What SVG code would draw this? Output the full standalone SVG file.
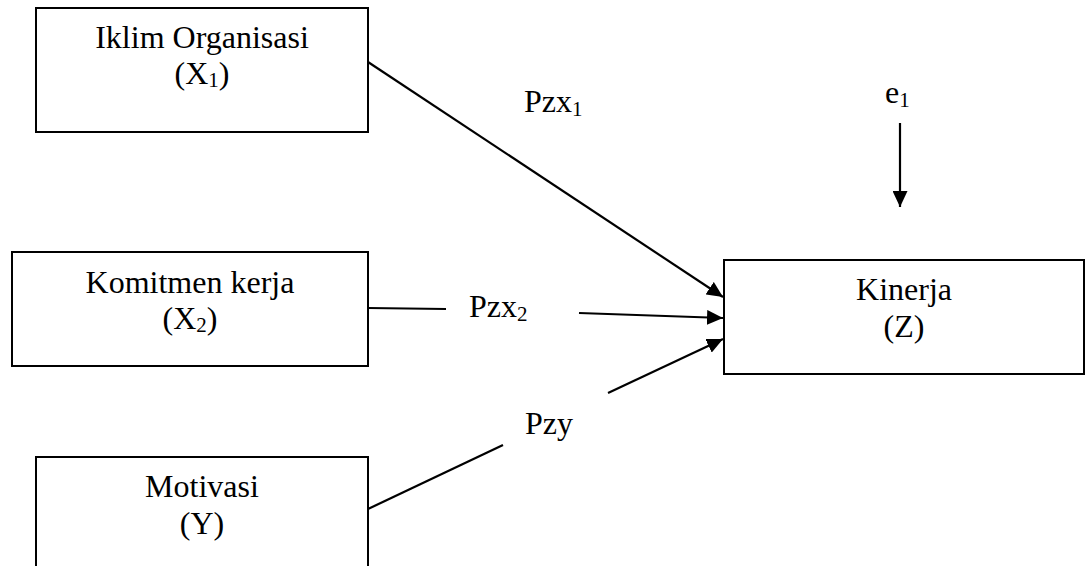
<svg xmlns="http://www.w3.org/2000/svg" width="1085" height="566" viewBox="0 0 1085 566" font-family="Liberation Serif, Times New Roman, Times, DejaVu Serif, serif">
<style>
  .box { fill: #ffffff; stroke: #000000; stroke-width: 2; }
  text { font-family: "Liberation Serif", "Times New Roman", Times, "DejaVu Serif", serif; font-size: 32px; fill: #000000; }
  .sub { font-size: 21px; }
  .edge { stroke: #000000; stroke-width: 2.2; fill: none; }
</style>
<defs>
  <marker id="arrow" markerUnits="userSpaceOnUse" markerWidth="17" markerHeight="15" refX="16" refY="7.5" orient="auto">
    <path d="M0,0 L16,7.5 L0,15 Z" fill="#000000"/>
  </marker>
</defs>
<rect width="1085" height="566" fill="#ffffff"/>

<g id="node-x1">
  <rect class="box" x="36" y="8" width="332" height="124"/>
  <text x="202" y="48" text-anchor="middle">Iklim Organisasi</text>
  <text x="202" y="84" text-anchor="middle">(X<tspan class="sub" dy="3">1</tspan><tspan dy="-3">)</tspan></text>
</g>

<g id="node-x2">
  <rect class="box" x="12" y="252" width="356" height="114"/>
  <text x="190" y="293" text-anchor="middle">Komitmen kerja</text>
  <text x="190" y="329" text-anchor="middle">(X<tspan class="sub" dy="3">2</tspan><tspan dy="-3">)</tspan></text>
</g>

<g id="node-y">
  <rect class="box" x="36" y="457" width="332" height="130"/>
  <text x="202" y="497" text-anchor="middle">Motivasi</text>
  <text x="202" y="534" text-anchor="middle">(Y)</text>
</g>

<g id="node-z">
  <rect class="box" x="724" y="260" width="360" height="114"/>
  <text x="904" y="300" text-anchor="middle">Kinerja</text>
  <text x="904" y="337" text-anchor="middle">(Z)</text>
</g>

<g id="connectors">
  <line class="edge" x1="368" y1="62" x2="723" y2="297" marker-end="url(#arrow)"/>
  <line class="edge" x1="368" y1="308" x2="446" y2="309"/>
  <line class="edge" x1="579" y1="313" x2="723" y2="318" marker-end="url(#arrow)"/>
  <line class="edge" x1="368" y1="509" x2="503" y2="445"/>
  <line class="edge" x1="608" y1="393" x2="723" y2="339" marker-end="url(#arrow)"/>
  <line class="edge" x1="900" y1="123" x2="900" y2="207" marker-end="url(#arrow)"/>
</g>

<g id="labels">
  <text x="524" y="112">Pzx<tspan class="sub" dy="4">1</tspan></text>
  <text x="469" y="317">Pzx<tspan class="sub" dy="4">2</tspan></text>
  <text x="525" y="434">Pzy</text>
  <text x="885" y="103">e<tspan class="sub" dy="4">1</tspan></text>
</g>
</svg>
